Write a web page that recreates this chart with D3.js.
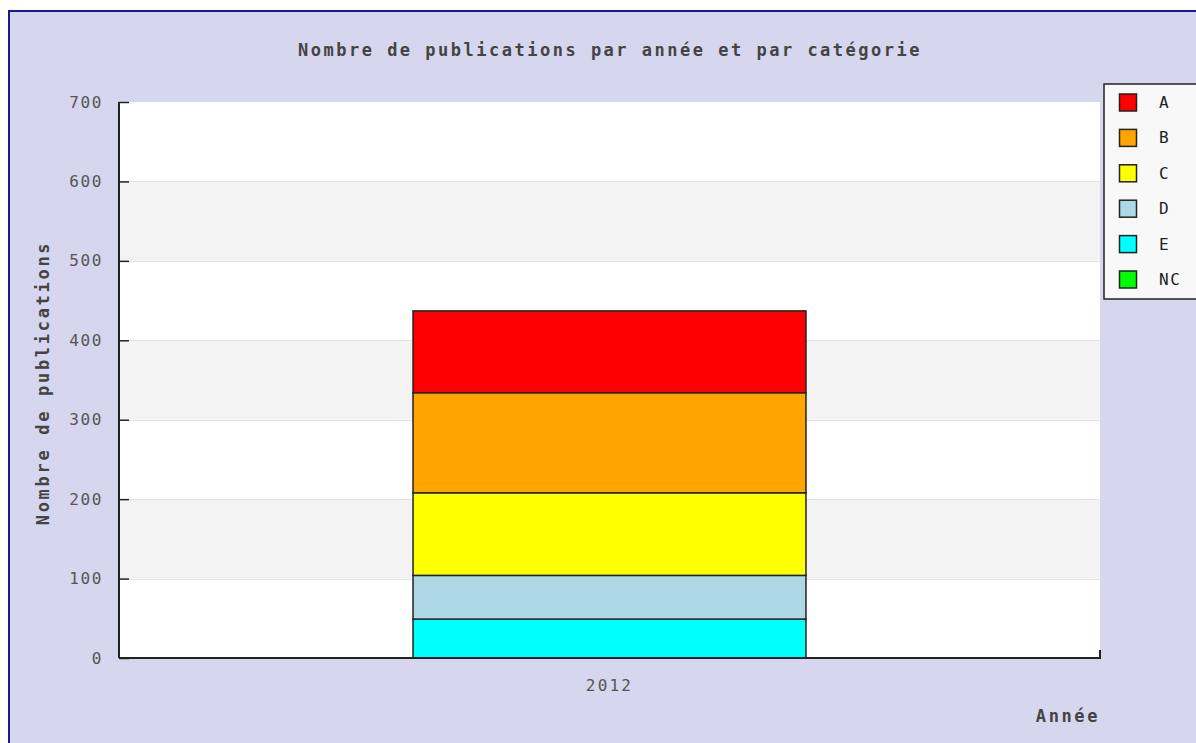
<!DOCTYPE html>
<html>
<head>
<meta charset="utf-8">
<script src="https://cdn.jsdelivr.net/npm/d3@7"></script>
<style>
  body { margin: 0; background: #fff; }
  svg { display: block; }
  text { font-family: "DejaVu Sans Mono", monospace; }
</style>
</head>
<body>
<svg id="chart" width="1196" height="743"></svg>
<script>
var years = ["2012"];
var categories = ["A", "B", "C", "D", "E", "NC"];
var colors = ["#ff0000", "#ffa500", "#ffff00", "#add8e6", "#00ffff", "#00ff00"];
var values = {
  "E": [49],
  "D": [55],
  "C": [104],
  "B": [126],
  "A": [103],
  "NC": [0]
};
var yTicks = [0, 100, 200, 300, 400, 500, 600, 700];

var svg = d3.select("#chart");

// frame
svg.append("rect")
  .attr("x", 9).attr("y", 11)
  .attr("width", 1300).attr("height", 800)
  .attr("fill", "#d6d6ee")
  .attr("stroke", "#1a1a8c")
  .attr("stroke-width", 2);

var pLeft = 119, pRight = 1100, pTop = 102, pBottom = 658;

var x = d3.scaleBand().domain(years).range([pLeft, pRight]).padding(0.428);
var y = d3.scaleLinear().domain([0, 700]).range([pBottom, pTop]);

// plot background + bands
svg.append("rect")
  .attr("x", pLeft).attr("y", pTop)
  .attr("width", pRight - pLeft).attr("height", pBottom - pTop)
  .attr("fill", "#fff");

svg.append("g").selectAll("rect")
  .data(yTicks.slice(0, -1).filter(function(d, i) { return i % 2 === 1; }))
  .enter().append("rect")
  .attr("x", pLeft)
  .attr("y", function(d) { return y(d + 100); })
  .attr("width", pRight - pLeft)
  .attr("height", function(d) { return y(d) - y(d + 100); })
  .attr("fill", "#f3f3f3");

svg.append("g").selectAll("line")
  .data(yTicks.slice(1, -1))
  .enter().append("line")
  .attr("x1", pLeft).attr("x2", pRight)
  .attr("y1", function(d) { return Math.round(y(d)) + 0.5; })
  .attr("y2", function(d) { return Math.round(y(d)) + 0.5; })
  .attr("stroke", "#e2e2e2");

// stacked bars (E at the bottom)
var order = ["NC", "E", "D", "C", "B", "A"];
var rows = years.map(function(yr, i) {
  var r = { year: yr };
  order.forEach(function(k) { r[k] = values[k][i]; });
  return r;
});
var stack = d3.stack().keys(order)(rows);

svg.append("g").selectAll("g")
  .data(stack.filter(function(s) { return s[0][1] > s[0][0]; }))
  .enter().append("g")
  .attr("fill", function(s) { return colors[categories.indexOf(s.key)]; })
  .selectAll("rect")
  .data(function(s) { return s; })
  .enter().append("rect")
  .attr("x", function(d) { return x(d.data.year); })
  .attr("y", function(d) { return y(d[1]); })
  .attr("width", x.bandwidth())
  .attr("height", function(d) { return y(d[0]) - y(d[1]); })
  .attr("stroke", "#222")
  .attr("stroke-width", 1.5);

// axes
var yAxis = d3.axisLeft(y).tickValues(yTicks).tickSize(-10).tickPadding(16);
var gy = svg.append("g").attr("transform", "translate(" + pLeft + ",0)").call(yAxis);
gy.select(".domain").attr("stroke", "#222").attr("stroke-width", 2).attr("d", "M0," + pTop + "V" + pBottom);
gy.selectAll(".tick line").attr("stroke", "#222").attr("stroke-width", 1.5);
gy.selectAll(".tick text").attr("fill", "#555").style("font-size", "16px")
  .style("letter-spacing", "1.6px")
  .style("font-family", "DejaVu Sans Mono, monospace");

var xAxis = d3.axisBottom(x).tickSize(0).tickPadding(22);
var gx = svg.append("g").attr("transform", "translate(0," + pBottom + ")").call(xAxis);
gx.select(".domain").attr("stroke", "#222").attr("stroke-width", 2)
  .attr("d", "M" + pLeft + ",0H" + pRight + "V-8");
gx.selectAll(".tick text").attr("fill", "#555").style("font-size", "16px")
  .style("letter-spacing", "2.2px")
  .style("font-family", "DejaVu Sans Mono, monospace");

// titles
svg.append("text")
  .attr("x", 610).attr("y", 56)
  .attr("text-anchor", "middle")
  .attr("fill", "#444")
  .style("font-weight", "bold").style("font-size", "17px")
  .style("letter-spacing", "2.5px")
  .text("Nombre de publications par année et par catégorie");

svg.append("text")
  .attr("transform", "translate(49," + 383 + ") rotate(-90)")
  .attr("text-anchor", "middle")
  .attr("fill", "#444")
  .style("font-weight", "bold").style("font-size", "17px")
  .style("letter-spacing", "2.7px")
  .text("Nombre de publications");

svg.append("text")
  .attr("x", 1100).attr("y", 722)
  .attr("text-anchor", "end")
  .attr("fill", "#444")
  .style("font-weight", "bold").style("font-size", "17px")
  .style("letter-spacing", "2.6px")
  .text("Année");

// legend
var legend = svg.append("g").attr("transform", "translate(1104,84)");
legend.append("rect")
  .attr("x", 0).attr("y", 0).attr("width", 120).attr("height", 215)
  .attr("fill", "#f8f8f8").attr("stroke", "#222").attr("stroke-width", 1.5);
var items = legend.selectAll(".item").data(categories)
  .enter().append("g")
  .attr("transform", function(d, i) { return "translate(0," + (19 + i * 35.4) + ")"; });
items.append("rect")
  .attr("x", 15.5).attr("y", -9).attr("width", 17).attr("height", 17)
  .attr("fill", function(d, i) { return colors[i]; })
  .attr("stroke", "#222").attr("stroke-width", 1.5);
items.append("text")
  .attr("x", 55).attr("y", 5)
  .attr("fill", "#222").style("font-size", "16px")
  .style("letter-spacing", "1.5px")
  .text(function(d) { return d; });
</script>
</body>
</html>
